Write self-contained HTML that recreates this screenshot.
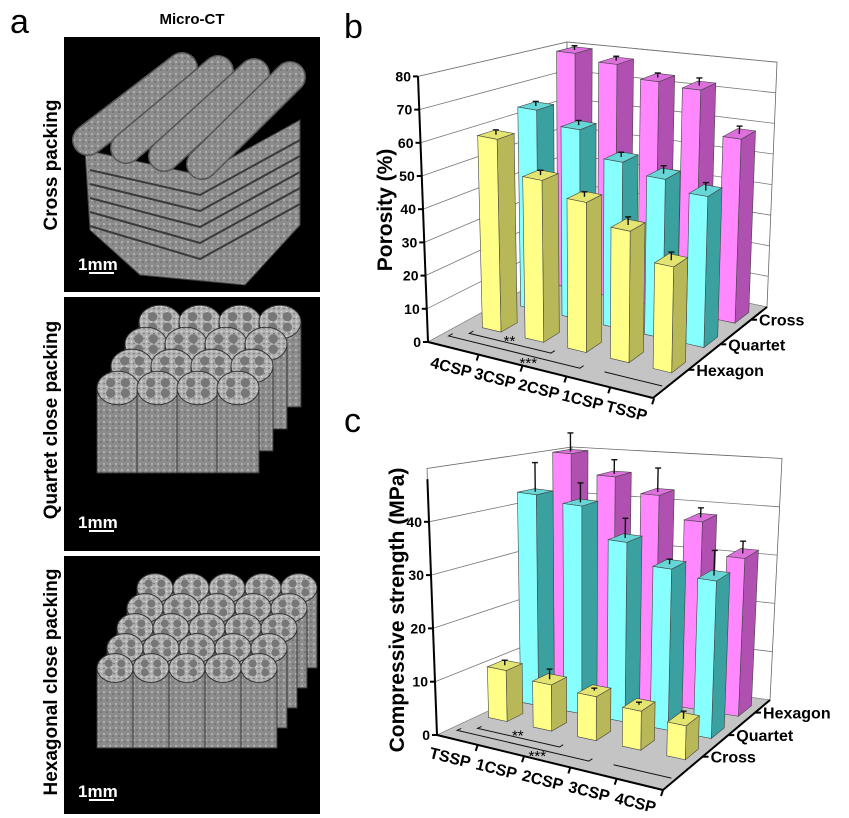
<!DOCTYPE html>
<html><head><meta charset="utf-8"><style>
html,body{margin:0;padding:0;background:#fff;}
svg{display:block;font-family:"Liberation Sans",sans-serif;}
</style></head><body>
<svg id="fig" width="849" height="818" viewBox="0 0 849 818" xmlns="http://www.w3.org/2000/svg">
<defs>
<pattern id="tex" width="6" height="6" patternUnits="userSpaceOnUse">
<rect width="6" height="6" fill="#8c8c8c"/><circle cx="2" cy="2" r="1" fill="#b8b8b8"/><circle cx="5" cy="4" r="0.8" fill="#606060"/>
</pattern>
<pattern id="tex2" width="5" height="5" patternUnits="userSpaceOnUse">
<rect width="5" height="5" fill="#b0b0b0"/><circle cx="1.5" cy="1.5" r="0.9" fill="#dadada"/><circle cx="4" cy="3.5" r="0.8" fill="#707070"/>
</pattern>
</defs>
<g id="panelA">
<text x="10" y="33" font-size="34">a</text>
<text x="192" y="24" font-size="15" font-weight="bold" text-anchor="middle">Micro-CT</text>
<rect x="64" y="37" width="256" height="255" fill="#000"/>
<rect x="64" y="297" width="256" height="254" fill="#000"/>
<rect x="64" y="556" width="256" height="258" fill="#000"/>
<g id="crossShape"></g>
<g id="quartetShape"></g>
<g id="hexShape"></g>
<text transform="translate(57,165) rotate(-90)" font-size="19" font-weight="bold" text-anchor="middle">Cross packing</text>
<text transform="translate(57,420) rotate(-90)" font-size="19" font-weight="bold" text-anchor="middle">Quartet close packing</text>
<text transform="translate(57,682) rotate(-90)" font-size="19" font-weight="bold" text-anchor="middle">Hexagonal close packing</text>
<g fill="#fff" font-size="17" font-weight="bold">
<text x="78" y="270">1mm</text><rect x="89" y="272" width="25" height="2"/>
<text x="78" y="528">1mm</text><rect x="89" y="530" width="25" height="2"/>
<text x="78" y="797">1mm</text><rect x="89" y="799" width="25" height="2"/>
</g>
</g>
<g id="chartB"></g>
<g id="chartC"></g>
</svg>
<script>
// ---- Chart b data ----
const bCategories = ["4CSP","3CSP","2CSP","1CSP","TSSP"];
const bRows = ["Hexagon","Quartet","Cross"];
const bHexagon = [60, 50, 46, 40, 32];
const bQuartet = [65, 61, 53, 50, 47];
const bCross = [80, 78, 74, 73, 59];
const bErr = [1.5, 1.5, 1.5, 2.5, 2.5];
const bTicks = [0,10,20,30,40,50,60,70,80];
// ---- Chart c data ----
const cCategories = ["TSSP","1CSP","2CSP","3CSP","4CSP"];
const cRows = ["Cross","Quartet","Hexagon"];
const cCross = [10, 9, 8.5, 7.5, 6.5];
const cQuartet = [43, 42, 36, 32, 31];
const cHexagon = [50, 46, 43, 38.5, 32];
const cErrQ = [6, 4, 4, 1, 5];
const cErrH = [4, 3, 5, 2, 2.5];
const cErrC = [1, 2, 0.5, 0.5, 1.5];
const cTicks = [0,10,20,30,40];

const NS="http://www.w3.org/2000/svg";
function mk(parent,tag,attrs){const e=document.createElementNS(NS,tag);for(const k in attrs)e.setAttribute(k,attrs[k]);parent.appendChild(e);return e;}

function makeProj(cfg){
  function bil(a,u,v){return (1-u)*(1-v)*a[0]+u*(1-v)*a[1]+u*v*a[2]+(1-u)*v*a[3];}
  return function(u,v,h){
    const x=bil(cfg.cx,u,v), y=bil(cfg.cy,u,v), s=bil(cfg.sc,u,v), t=bil(cfg.tl,u,v);
    return [x+t*h, y-s*h];
  };
}
function pts(a){return a.map(p=>p[0].toFixed(1)+","+p[1].toFixed(1)).join(" ");}

const colors={
  y:{f:"#ffff88",s:"#b8b858",t:"#e4e470"},
  c:{f:"#88ffff",s:"#3aa0a0",t:"#66d6d6"},
  m:{f:"#ff88ff",s:"#b050b0",t:"#dd70dd"}
};

function drawChart(g,cfg,P,series,errs,rowColors,cats,ticks,rowLabels){
  const H=cfg.hmax;
  const wall=mk(g,"g",{});
  
  
  mk(wall,"polygon",{points:pts([P(0,0,0),P(0,1,0),P(0,1,H),P(0,0,H)]),fill:"#fff",stroke:"#666","stroke-width":0.8});
  mk(wall,"polygon",{points:pts([P(0,1,0),P(1,1,0),P(1,1,H),P(0,1,H)]),fill:"#fff",stroke:"#666","stroke-width":0.8});
  for(const t of ticks){
    if(t===0)continue;
    const gl=mk(wall,"polyline",{points:pts([P(0,0,t),P(0,1,t),P(1,1,t)]),fill:"none",stroke:"#777","stroke-width":0.8});
    
    
  }
  const fl=mk(g,"polygon",{points:pts([P(0,0,0),P(1,0,0),P(1,1,0),P(0,1,0)]),fill:"#c4c4c4",stroke:"#888","stroke-width":0.6});
  
  
  const br=mk(g,"g",{stroke:"#111","stroke-width":1,fill:"none"});
  
  
  const v1=0.17,v2=0.1;
  mk(br,"polyline",{points:pts([P(0.08,v1+0.03,0),P(0.08,v1,0),P(0.45,v1,0),P(0.45,v1+0.03,0)])});
  mk(br,"polyline",{points:pts([P(0.03,v2+0.03,0),P(0.03,v2,0),P(0.62,v2,0),P(0.62,v2+0.03,0)])});
  mk(br,"line",{x1:P(0.72,0.12,0)[0],y1:P(0.72,0.12,0)[1],x2:P(0.98,0.12,0)[0],y2:P(0.98,0.12,0)[1]});
  const s1=P(0.25,v1+0.02,0),s2=P(0.4,v2-0.02,0);
  const t1=mk(g,"text",{x:s1[0],y:s1[1]+5,"font-size":15,"text-anchor":"middle"});t1.textContent="**";
  
  
  const t2=mk(g,"text",{x:s2[0],y:s2[1]+10,"font-size":15,"text-anchor":"middle"});t2.textContent="***";
  
  
  for(let r=series.length-1;r>=0;r--){
    const v0=cfg.rowsV[r], v1b=v0+cfg.depth, col=colors[rowColors[r]];
    for(let i=0;i<series[r].length;i++){
      const u0=cfg.u0+i*cfg.ustep, u1=u0+cfg.width, h=series[r][i];
      const bg=mk(g,"g",{stroke:"#444","stroke-width":0.6});
      
      
      mk(bg,"polygon",{points:pts([P(u1,v0,0),P(u1,v1b,0),P(u1,v1b,h),P(u1,v0,h)]),fill:col.s});
      mk(bg,"polygon",{points:pts([P(u0,v0,h),P(u1,v0,h),P(u1,v1b,h),P(u0,v1b,h)]),fill:col.t});
      mk(bg,"polygon",{points:pts([P(u0,v0,0),P(u1,v0,0),P(u1,v0,h),P(u0,v0,h)]),fill:col.f});
      const e=errs[r][i], c0=P((u0+u1)/2,(v0+v1b)/2,h), c1=P((u0+u1)/2,(v0+v1b)/2,h+e);
      const eg=mk(g,"g",{stroke:"#111","stroke-width":1.4});
      
      
      mk(eg,"line",{x1:c0[0],y1:c0[1],x2:c1[0],y2:c1[1]});
      mk(eg,"line",{x1:c1[0]-3,y1:c1[1],x2:c1[0]+3,y2:c1[1]});
    }
  }
  const ax=mk(g,"g",{stroke:"#000","stroke-width":2,fill:"none"});
  
  
  const a0=P(0,0,0),aT=P(0,0,cfg.axisTop),a1=P(1,0,0),a2=P(1,1,0);
  mk(ax,"line",{x1:a0[0],y1:a0[1],x2:aT[0],y2:aT[1]});
  mk(ax,"line",{x1:a0[0],y1:a0[1],x2:a1[0],y2:a1[1]});
  mk(ax,"line",{x1:a1[0],y1:a1[1],x2:a2[0],y2:a2[1]});
  for(const t of ticks){
    const p=P(0,0,t);
    mk(ax,"line",{x1:p[0]-5,y1:p[1],x2:p[0],y2:p[1]});
    const tx=mk(g,"text",{x:p[0]-7,y:p[1]+5,"font-size":14,"font-weight":"bold","text-anchor":"end"});
    tx.textContent=t;
    
    
  }
  for(let i=0;i<cats.length;i++){
    const p=P(cfg.u0+i*cfg.ustep+cfg.width/2,0,0);
    const tp=P(cfg.u0+i*cfg.ustep+cfg.width+0.05,0,0);
    mk(ax,"line",{x1:tp[0],y1:tp[1],x2:tp[0]-2,y2:tp[1]+6});
    const tx=mk(g,"text",{transform:`translate(${p[0]-8},${p[1]+23}) rotate(${cfg.xRot})`,"font-size":16,"font-weight":"bold","text-anchor":"middle"});
    tx.textContent=cats[i];
    
    
  }
  for(let r=0;r<rowLabels.length;r++){
    const p=P(1,cfg.rowsV[r]+cfg.depth/2,0);
    mk(ax,"line",{x1:p[0],y1:p[1],x2:p[0]+6,y2:p[1]});
    const tx=mk(g,"text",{x:p[0]+8,y:p[1]+6,"font-size":16,"font-weight":"bold"});
    tx.textContent=rowLabels[r];
    
    
  }
  const yt=mk(g,"text",{transform:`translate(${cfg.ytx},${cfg.yty}) rotate(-90)`,"font-size":21,"font-weight":"bold","text-anchor":"middle"});
  yt.textContent=cfg.ytitle;
  
  
  const pl=mk(g,"text",{x:cfg.lx,y:cfg.ly,"font-size":34});
  pl.textContent=cfg.label;
  
  
}

const cfgB={cx:[428,653,767,567],cy:[342,398,307,266],sc:[3.32,3.4,3.06,2.8],tl:[-0.125,0.05,0.125,0],
  hmax:80,axisTop:80,u0:0.09,ustep:0.195,width:0.085,rowsV:[0.25,0.53,0.8],depth:0.12,xRot:14,
  ytitle:"Porosity (%)",ytx:392,yty:210,label:"b",lx:344,ly:38};
const cfgC={cx:[437,663,770,572],cy:[735,790,700,672],sc:[5.33,5.4,4.83,4.5],tl:[-0.2,0.1,0.24,0],
  hmax:50,axisTop:48,u0:0.045,ustep:0.205,width:0.085,rowsV:[0.31,0.55,0.8],depth:0.12,xRot:14,
  ytitle:"Compressive strength (MPa)",ytx:404,yty:610,label:"c",lx:344,ly:432};

drawChart(document.getElementById("chartB"),cfgB,makeProj(cfgB),[bHexagon,bQuartet,bCross],[bErr,bErr,bErr],["y","c","m"],bCategories,bTicks,bRows);
drawChart(document.getElementById("chartC"),cfgC,makeProj(cfgC),[cCross,cQuartet,cHexagon],[cErrC,cErrQ,cErrH],["y","c","m"],cCategories,cTicks,cRows);

// ---- Panel a scaffolds (decorative) ----
const cs=document.getElementById("crossShape");
const blk=mk(cs,"polygon",{points:"85,150 200,175 300,120 300,225 245,285 140,275 90,230",fill:"url(#tex)",stroke:"#444"});


for(let k=0;k<5;k++){
  const ln=mk(cs,"polyline",{points:`90,${170+k*14} 200,${195+k*16} 300,${140+k*16}`,fill:"none",stroke:"#3a3a3a","stroke-width":2});
  
  
}
for(let k=0;k<4;k++){
  const x1=88+k*38,y1=140+k*8,x2=182+k*36,y2=68+k*3;
  const rod=mk(cs,"line",{x1:x1,y1:y1,x2:x2,y2:y2,stroke:"#555","stroke-width":32,"stroke-linecap":"round"});
  
  
  const rod2=mk(cs,"line",{x1:x1,y1:y1,x2:x2,y2:y2,stroke:"url(#tex)","stroke-width":29,"stroke-linecap":"round"});
  
  
}
function cylinders(parent,rows,cols,x0,y0,dx,dy,rad,len,shiftRow){
  for(let r=0;r<rows;r++)for(let c=0;c<cols;c++){
    const x=x0+c*dx+r*shiftRow, y=y0+r*dy;
    const g=mk(parent,"g",{});
    
    
    mk(g,"rect",{x:x-rad,y:y,width:rad*2,height:len,fill:"url(#tex)",stroke:"#333"});
    mk(g,"ellipse",{cx:x,cy:y,rx:rad,ry:rad*0.8,fill:"url(#tex2)",stroke:"#333"});
    mk(g,"circle",{cx:x-rad*0.35,cy:y-rad*0.25,r:rad*0.22,fill:"#777"});
    mk(g,"circle",{cx:x+rad*0.35,cy:y-rad*0.25,r:rad*0.22,fill:"#777"});
    mk(g,"circle",{cx:x-rad*0.35,cy:y+rad*0.25,r:rad*0.22,fill:"#777"});
    mk(g,"circle",{cx:x+rad*0.35,cy:y+rad*0.25,r:rad*0.22,fill:"#777"});
  }
}
cylinders(document.getElementById("quartetShape"),4,4,160,322,40,22,21,85,-14);
cylinders(document.getElementById("hexShape"),5,5,155,588,36,20,18,80,-10);
</script>
</body></html>
